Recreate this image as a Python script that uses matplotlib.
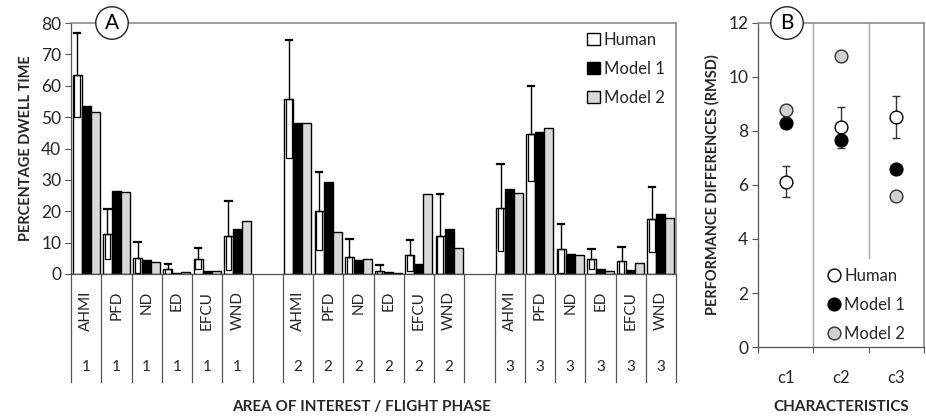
import matplotlib
matplotlib.use("Agg")
import matplotlib.pyplot as plt
from matplotlib.patches import Rectangle, Patch
from matplotlib.lines import Line2D
import matplotlib.transforms as mtransforms

plt.rcParams['font.family'] = ['Lato', 'DejaVu Sans']

# ---------------- data ----------------
aois = ['AHMI', 'PFD', 'ND', 'ED', 'EFCU', 'WND']
phases = ['1', '2', '3']

human_p1 = [63.4, 12.7, 5.2, 1.5, 4.9, 12.2]
human_p2 = [55.8, 20.0, 5.5, 1.1, 6.0, 12.2]
human_p3 = [21.1, 44.7, 8.1, 4.8, 4.2, 17.4]
human_sd_p1 = [13.5, 7.9, 4.9, 1.8, 3.4, 11.0]
human_sd_p2 = [18.7, 12.4, 5.7, 1.9, 4.9, 13.4]
human_sd_p3 = [13.9, 15.2, 7.8, 3.1, 4.4, 10.4]
model1_p1 = [53.6, 26.5, 4.5, 0.3, 0.8, 14.2]
model1_p2 = [48.0, 29.2, 4.5, 0.7, 3.1, 14.2]
model1_p3 = [27.1, 45.2, 6.4, 1.5, 1.3, 19.2]
model2_p1 = [51.5, 26.0, 3.8, 0.5, 1.0, 17.0]
model2_p2 = [48.2, 13.3, 4.9, 0.3, 25.4, 8.2]
model2_p3 = [25.7, 46.6, 6.0, 0.8, 3.6, 17.7]

chars = ['c1', 'c2', 'c3']
rmsd_human = [6.12, 8.14, 8.53]
rmsd_human_sd = [0.58, 0.76, 0.78]
rmsd_model1 = [8.31, 7.65, 6.59]
rmsd_model2 = [8.78, 10.78, 5.60]

series_names = ['Human', 'Model 1', 'Model 2']

human = [human_p1, human_p2, human_p3]
human_sd = [human_sd_p1, human_sd_p2, human_sd_p3]
model1 = [model1_p1, model1_p2, model1_p3]
model2 = [model2_p1, model2_p2, model2_p3]

GRAY2 = '#d9d9d9'
SPINE = '#8c8c8c'
TXT = '#262626'

fig = plt.figure(figsize=(9.26, 4.2), dpi=100)
W, H = 926, 420

def ax_rect(x0, x1, ytop, ybot):
    return [x0 / W, 1 - ybot / H, (x1 - x0) / W, (ybot - ytop) / H]

# ---------------- panel A ----------------
axA = fig.add_axes(ax_rect(71, 676, 23, 274))
n_slots = len(phases) * (len(aois) + 1) - 1
axA.set_xlim(0, n_slots)
axA.set_ylim(0, 80)
bw = 0.297

for p in range(len(phases)):
    for i in range(len(aois)):
        c = p * (len(aois) + 1) + i + 0.5
        h = human[p][i]
        sd = human_sd[p][i]
        m1 = model1[p][i]
        m2 = model2[p][i]
        axA.bar(c - bw, h, bw, color='white', edgecolor='black', linewidth=1.0, zorder=2)
        axA.bar(c, m1, bw, color='black', edgecolor='black', linewidth=1.0, zorder=2)
        axA.bar(c + bw, m2, bw, color=GRAY2, edgecolor='black', linewidth=1.0, zorder=2)
        # lower error part drawn as inner box
        lo = max(h - sd, 0)
        inset = bw * 0.2
        axA.add_patch(Rectangle((c - 1.5 * bw + inset, lo), bw - 2 * inset, h - lo,
                                fill=False, edgecolor='black', linewidth=0.9, zorder=3))
        # upper error bar
        axA.plot([c - bw, c - bw], [h, h + sd], color='black', lw=1.0, zorder=3)
        axA.plot([c - bw - 0.11, c - bw + 0.11], [h + sd, h + sd], color='black', lw=1.6, zorder=3)

axA.set_yticks(range(0, 81, 10))
axA.tick_params(axis='y', labelsize=12.5, colors=TXT, length=4, width=0.8, pad=3)
axA.tick_params(axis='y', color='#555555')
axA.set_xticks([])
for s in ['top', 'right']:
    axA.spines[s].set_color(SPINE)
    axA.spines[s].set_linewidth(1.2)
axA.spines['left'].set_color('#555555')
axA.spines['bottom'].set_color('#555555')
axA.spines['left'].set_linewidth(0.9)
axA.spines['bottom'].set_linewidth(0.9)

# multi-level category axis
trans = mtransforms.blended_transform_factory(axA.transData, axA.transAxes)
yb = -(381.7 - 274) / (274 - 23)
for k in range(n_slots + 1):
    axA.plot([k, k], [0, yb], color='#555555', lw=0.9, transform=trans, clip_on=False)
ylab = -(291 - 274) / (274 - 23)
ynum = -(367 - 274) / (274 - 23)
for p in range(len(phases)):
    for i in range(len(aois)):
        c = p * (len(aois) + 1) + i + 0.5
        axA.text(c, ylab, aois[i], rotation=90, ha='center', va='top', fontsize=11,
                 color=TXT, transform=trans)
        axA.text(c, ynum, phases[p], ha='center', va='center', fontsize=11,
                 color=TXT, transform=trans)

axA.set_ylabel('PERCENTAGE DWELL TIME', fontsize=10.5, fontweight='bold', color=TXT, labelpad=6)
fig.text(362 / W, 1 - 407 / H, 'AREA OF INTEREST / FLIGHT PHASE', ha='center', va='center',
         fontsize=11, fontweight='bold', color=TXT)

handlesA = [Patch(facecolor='white', edgecolor='black', lw=1.0),
            Patch(facecolor='black', edgecolor='black', lw=1.0),
            Patch(facecolor=GRAY2, edgecolor='black', lw=1.0)]
axA.legend(handlesA, series_names, loc='upper left', bbox_to_anchor=((587 - 71) / 605, 1 - (32 - 23) / 251),
           frameon=False, fontsize=12, handlelength=0.75, handleheight=0.75, handletextpad=0.25,
           labelspacing=0.78, borderpad=0, borderaxespad=0, labelcolor=TXT)

axA.annotate('A', xy=((112 - 71) / 605, 1.0), xycoords='axes fraction', ha='center', va='center',
             fontsize=15, color='black',
             bbox=dict(boxstyle='circle,pad=0.3', fc='white', ec='#222222', lw=1.0), zorder=10,
             annotation_clip=False)

# ---------------- panel B ----------------
axB = fig.add_axes(ax_rect(758, 924, 23, 347))
xs = [i + 0.5 for i in range(len(chars))]
axB.set_xlim(0, len(chars))
axB.set_ylim(0, 12)
axB.plot([1, 1], [0, 12], color='#a6a6a6', lw=1.0, zorder=1)
axB.plot([2, 2], [3.3, 12], color='#a6a6a6', lw=1.0, zorder=1)

ms = 9.2
axB.errorbar(xs, rmsd_human, yerr=rmsd_human_sd, fmt='none', ecolor='#333333', elinewidth=1.0,
             capsize=3.2, capthick=1.0, zorder=2)
axB.plot(xs, rmsd_human, 'o', ms=ms, mfc='white', mec='black', mew=1.0, zorder=3, ls='none')
axB.plot(xs, rmsd_model1, 'o', ms=ms, mfc='black', mec='black', mew=1.0, zorder=4, ls='none')
axB.plot(xs, rmsd_model2, 'o', ms=ms, mfc='#d0d0d0', mec='#333333', mew=1.0, zorder=4, ls='none')

axB.set_yticks(range(0, 13, 2))
axB.set_xticks([0, 1, 2, 3])
axB.set_xticklabels([])
axB.tick_params(axis='x', length=4, width=0.8, color='#555555')
for x, lab in zip(xs, chars):
    axB.text(x, -(378 - 347) / 27, lab, ha='center', va='center', fontsize=12, color=TXT)
axB.tick_params(axis='y', labelsize=12.5, colors=TXT, length=4, width=0.8, pad=3)
axB.tick_params(axis='y', color='#555555')
for s in ['top', 'right']:
    axB.spines[s].set_color(SPINE)
    axB.spines[s].set_linewidth(1.2)
axB.spines['left'].set_color('#555555')
axB.spines['bottom'].set_color('#555555')
axB.spines['left'].set_linewidth(0.9)
axB.spines['bottom'].set_linewidth(0.9)
axB.set_ylabel('PERFORMANCE DIFFERENCES (RMSD)', fontsize=10.5, fontweight='bold', color=TXT, labelpad=6)
fig.text(841 / W, 1 - 407 / H, 'CHARACTERISTICS', ha='center', va='center',
         fontsize=11, fontweight='bold', color=TXT)

handlesB = [Line2D([], [], marker='o', ls='none', ms=ms, mfc='white', mec='black', mew=1.0),
            Line2D([], [], marker='o', ls='none', ms=ms, mfc='black', mec='black', mew=1.0),
            Line2D([], [], marker='o', ls='none', ms=ms, mfc='#d0d0d0', mec='#333333', mew=1.0)]
axB.legend(handlesB, series_names, loc='upper left',
           bbox_to_anchor=((829 - 758) / 166, 1 - (268 - 23) / 324),
           frameon=False, fontsize=12, handlelength=0.6, handletextpad=0.3,
           labelspacing=0.78, borderpad=0, borderaxespad=0, labelcolor=TXT)

axB.annotate('B', xy=((787 - 758) / 166, 1.0), xycoords='axes fraction', ha='center', va='center',
             fontsize=15, color='black',
             bbox=dict(boxstyle='circle,pad=0.3', fc='white', ec='#222222', lw=1.0), zorder=10,
             annotation_clip=False)

fig.savefig('out.png', dpi=100)
